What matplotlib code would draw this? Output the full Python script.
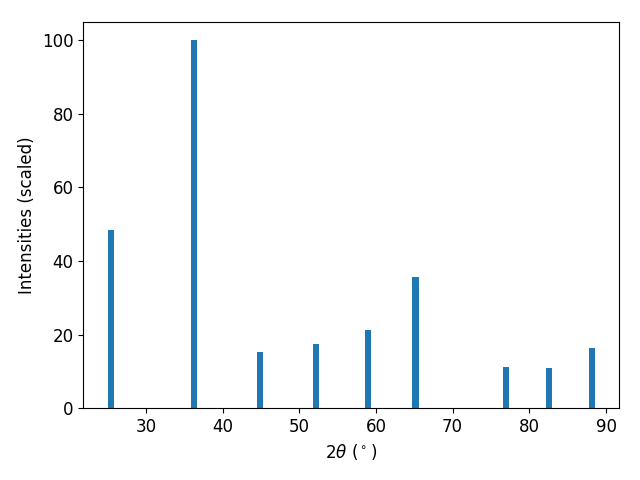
import matplotlib
matplotlib.use("Agg")
import matplotlib.pyplot as plt

two_theta = [25.43, 36.26, 44.9, 52.2, 58.93, 65.17, 76.92, 82.53, 88.16]
intensities = [48.4, 100.0, 15.3, 17.5, 21.3, 35.7, 11.2, 11.0, 16.4]

plt.rcParams['font.size'] = 12
fig, ax = plt.subplots(figsize=(6.4, 4.8), dpi=100)
ax.bar(two_theta, intensities, width=0.8, color='#1f77b4')
ax.set_xlabel(r'$2\theta$ ($^\circ$)')
ax.set_ylabel('Intensities (scaled)')
fig.subplots_adjust(left=0.1302, right=0.9677, top=0.9552, bottom=0.1490)
fig.savefig('out.png', dpi=100)
